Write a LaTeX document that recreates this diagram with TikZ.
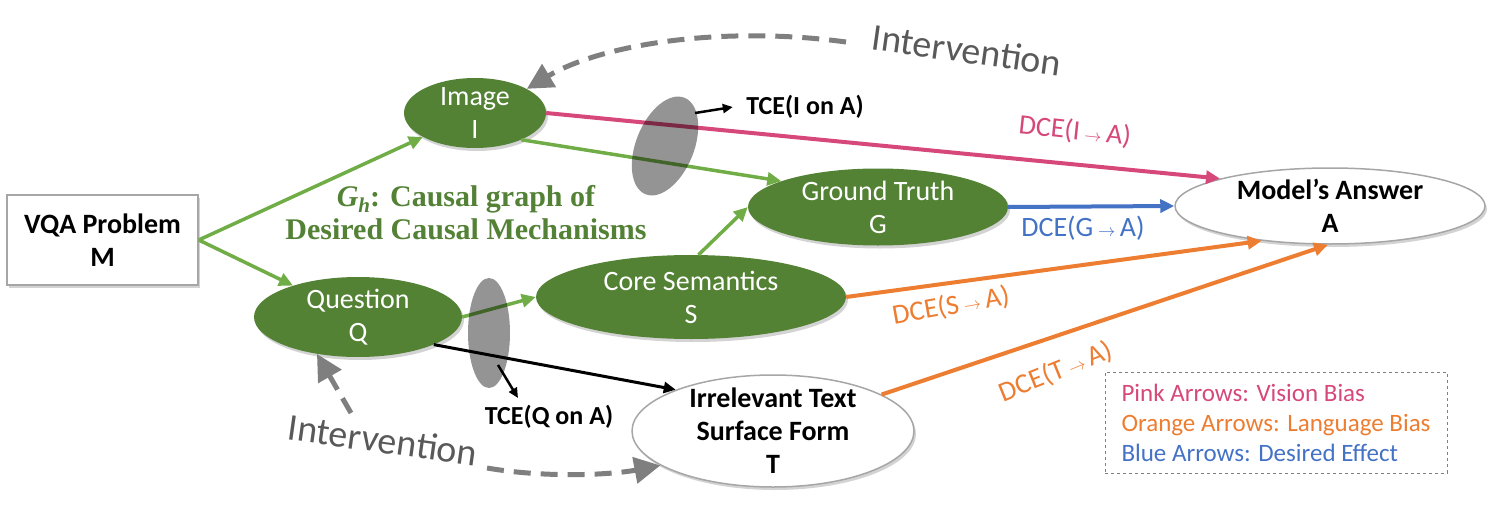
\documentclass[tikz,border=0pt]{standalone}
\usepackage{fontspec}
\setmainfont{Carlito}
\newfontfamily\gserif{Liberation Serif}
\usetikzlibrary{arrows.meta,shapes.geometric,shadows,calc}
\definecolor{nodegreen}{RGB}{84,130,53}
\definecolor{arrgreen}{RGB}{112,173,71}
\definecolor{txtgreen}{RGB}{83,129,53}
\definecolor{pinkc}{RGB}{214,72,122}
\definecolor{orangec}{RGB}{237,125,49}
\definecolor{bluec}{RGB}{68,114,196}
\definecolor{dashgray}{RGB}{127,127,127}
\definecolor{intgray}{RGB}{89,89,89}
\definecolor{bordergray}{RGB}{166,166,166}
\newcommand\rarr{\,{\fontsize{19}{19}\selectfont$\rightarrow$}\,}
\newcommand\Gsubh{{\itshape G\raisebox{-6pt}{\fontsize{21}{21}\selectfont h}}}
\begin{document}
\begin{tikzpicture}[x=1pt,y=-1pt,
  shad/.style={drop shadow={shadow xshift=2pt,shadow yshift=-3pt,opacity=0.35}},
  gnode/.style={ellipse,fill=nodegreen,text=white,inner xsep=0pt,inner ysep=-8pt,align=center,
    font=\fontsize{28}{33}\selectfont,shad},
  wnode/.style={ellipse,draw=bordergray,line width=1.5pt,fill=white,inner xsep=0pt,inner ysep=-8pt,
    align=center,font=\bfseries\fontsize{28}{33}\selectfont,shad},
  boxnode/.style={rectangle,draw=bordergray,line width=1.5pt,fill=white,align=center,
    font=\bfseries\fontsize{28}{33}\selectfont,shad},
  tip/.style={-{Triangle[length=14pt,width=13pt]}},
  garr/.style={tip,draw=arrgreen,line width=3.5pt},
  parr/.style={tip,draw=pinkc,line width=4pt},
  oarr/.style={tip,draw=orangec,line width=4pt},
  barr/.style={tip,draw=bluec,line width=4pt},
  karr/.style={-{Triangle[length=12pt,width=11pt]},draw=black,line width=3pt},
  tarr/.style={-{Triangle[length=10pt,width=9pt]},draw=black,line width=2.5pt},
  darr/.style={-{Triangle[length=26pt,width=26pt]},draw=dashgray,line width=5pt,dash pattern=on 17pt off 10pt},
  lens/.style={ellipse,fill=black,fill opacity=0.42,inner sep=0pt},
  dce/.style={font=\fontsize{28}{30}\selectfont},
  tce/.style={font=\bfseries\fontsize{26}{28}\selectfont},
  interv/.style={font=\fontsize{38}{40}\selectfont,text=intgray},
  gtext/.style={font=\gserif\bfseries\fontsize{30}{33}\selectfont,text=txtgreen,align=center}
]
\useasboundingbox (0,0) rectangle (1495,508);

% nodes
\node[boxnode,minimum width=191pt,minimum height=90pt] (M) at (102.5,240) {VQA Problem\\M};
\node[gnode,minimum width=142pt,minimum height=70pt] (I) at (475,113) {Image\\I};
\node[gnode,minimum width=208pt,minimum height=80pt] (Q) at (358,317) {Question\\Q};
\node[gnode,minimum width=310pt,minimum height=84pt] (S) at (691,297) {Core Semantics\\S};
\node[gnode,minimum width=260pt,minimum height=77pt] (G) at (878,207) {Ground Truth\\G};
\node[wnode,minimum width=310pt,minimum height=76pt] (A) at (1330,206) {Model’s Answer\\A};
\node[wnode,minimum width=282pt,minimum height=112pt] (T) at (773,431) {Irrelevant Text\\Surface Form\\T};

% text labels
\node[gtext] (gh) at (466,213) {\Gsubh: Causal graph of\\Desired Causal Mechanisms};
\node[interv,rotate=-8] (iv1) at (967,50) {Intervention};
\node[interv,rotate=-8] (iv2) at (383,440) {Intervention};
\node[dce,text=pinkc,rotate=-6] (dI) at (1075,131) {DCE(I\rarr A)};
\node[dce,text=bluec] (dG) at (1083,228) {DCE(G\rarr A)};
\node[dce,text=orangec,rotate=10] (dS) at (951,306) {DCE(S\rarr A)};
\node[dce,text=orangec,rotate=22] (dT) at (1056,372) {DCE(T\rarr A)};
\node[tce] (tce1) at (805,107) {TCE(I on A)};
\node[tce] (tce2) at (549,417) {TCE(Q on A)};

% green arrows
\draw[garr] (M.east) -- (I);
\draw[garr] (M.east) -- (Q);
\draw[garr] (I.-30) -- (G.165);
\draw[garr] (S.80) -- (G.west);
\draw[garr] (Q.east) -- (S.west);
% black arrow
\draw[karr] (Q.-20) -- (T.157);
% effect arrows
\draw[parr] (I.east) -- (A.166);
\draw[barr] (G.east) -- (A.west);
\draw[oarr] (S.east) -- (A.207);
\draw[oarr] (T) -- (A.267);

% lenses (TCE)
\node[lens,minimum width=58pt,minimum height=104pt,rotate=-22] (L1) at (665,146) {};
\node[lens,minimum width=42pt,minimum height=110pt] (L2) at (489,333) {};
\coordinate (t1s) at (695,113);
\coordinate (t2s) at (498,365);
\coordinate (t2e) at (518,398);
\draw[tarr] (t1s) -- ([xshift=-10pt]tce1.west);
\draw[tarr] (t2s) -- (t2e);

% legend
\node[draw=dashgray,dashed,line width=1pt,align=left,inner xsep=10pt,inner ysep=6pt,
  font=\fontsize{25}{30}\selectfont,minimum width=342pt,minimum height=101pt] (leg) at (1276,422.5)
  {\textcolor{pinkc}{Pink Arrows: Vision Bias}\\
   \textcolor{orangec}{Orange Arrows: Language Bias}\\
   \textcolor{bluec}{Blue Arrows: Desired Effect}};

% interventions
\coordinate (iv1s) at (846,42);
\draw[darr] (iv1s) .. controls (720,25) and (600,45) .. (I.25);
\coordinate (iv2a) at (351,413);
\draw[darr] (iv2a) -- (Q.222);
\coordinate (iv2b) at (487,468);
\draw[darr] (iv2b) .. controls (545,478) and (610,475) .. (T.197);
\end{tikzpicture}
\end{document}
